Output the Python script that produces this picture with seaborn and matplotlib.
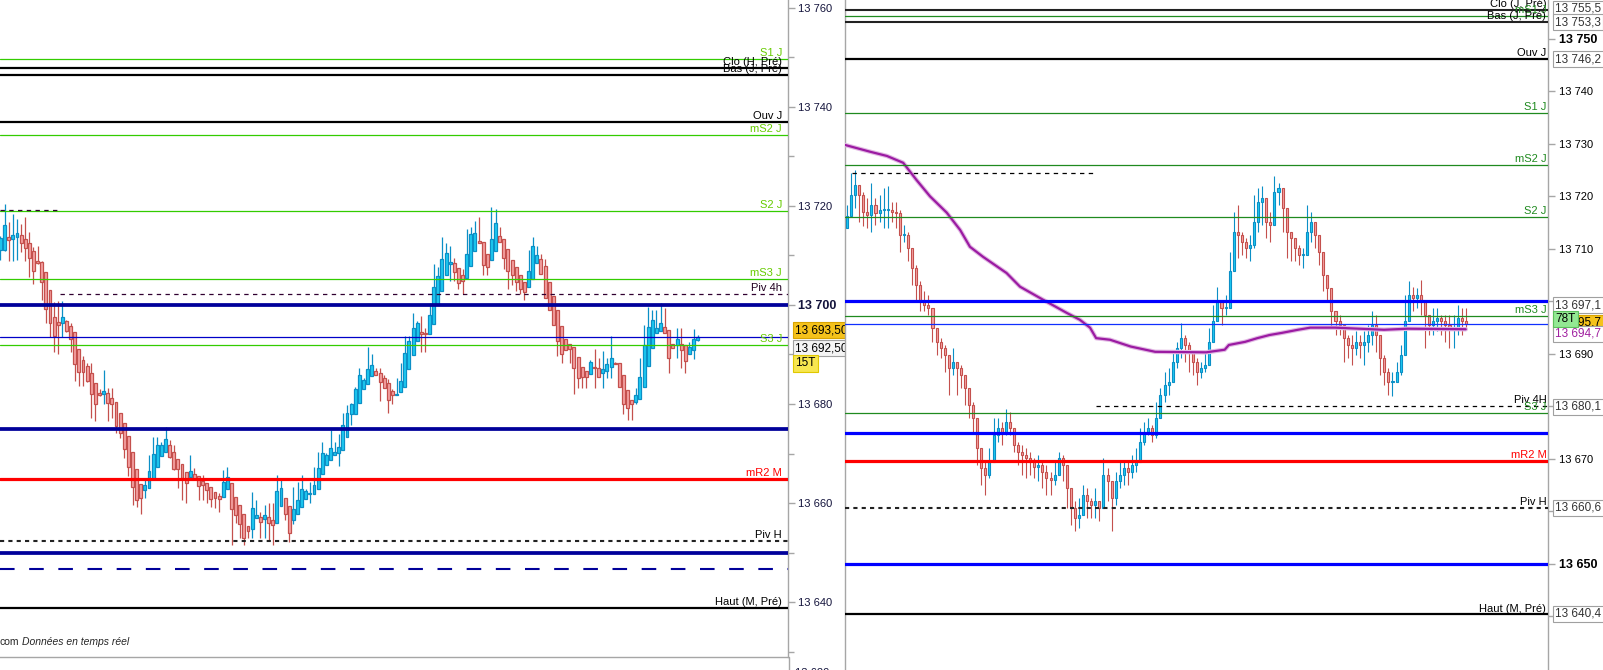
import matplotlib
matplotlib.use("Agg")
import matplotlib.pyplot as plt
import matplotlib.transforms as mtransforms
from matplotlib.lines import Line2D
import numpy as np
import pandas as pd
import seaborn as sns

# ------------------------------------------------------------------ DATA
# Left panel : 15-minute candles
left_open = [
13711.1, 13711.2, 13713.7, 13713.3, 13713.7, 13714.1, 13713.3, 13712.5, 13711.0, 13708.9,
13708.7, 13706.6, 13703.0, 13697.6, 13696.5, 13696.3, 13696.8, 13695.7, 13694.5, 13691.2,
13688.8, 13687.6, 13686.2, 13684.2, 13682.2, 13682.0, 13682.2, 13681.3, 13680.5, 13678.1,
13676.1, 13673.5, 13670.4, 13666.8, 13663.8, 13662.6, 13663.0, 13664.9, 13667.3, 13669.5,
13670.4, 13671.7, 13670.4, 13668.8, 13667.8, 13666.2, 13665.3, 13665.8, 13665.4, 13664.4,
13664.0, 13663.2, 13662.2, 13661.5, 13661.3, 13662.8, 13664.0, 13661.3, 13659.5, 13657.7,
13655.3, 13654.7, 13656.9, 13657.1, 13656.7, 13657.1, 13656.5, 13655.9, 13659.3, 13661.0,
13659.3, 13656.5, 13657.7, 13659.1, 13660.9, 13661.8, 13661.8, 13662.8, 13665.8, 13667.6,
13668.6, 13669.8, 13670.2, 13670.8, 13673.3, 13677.9, 13677.9, 13680.3, 13683.0, 13684.0,
13685.7, 13686.6, 13686.2, 13685.2, 13684.2, 13682.6, 13681.8, 13682.4, 13683.4, 13687.0,
13689.8, 13692.7, 13694.5, 13694.3, 13694.1, 13696.1, 13700.1, 13702.8, 13706.0, 13708.2,
13708.4, 13707.4, 13706.0, 13705.4, 13707.8, 13711.0, 13712.9, 13712.7, 13710.2, 13709.0,
13711.0, 13713.9, 13713.3, 13711.4, 13709.0, 13707.6, 13706.0, 13704.6, 13703.6, 13705.3,
13708.4, 13709.2, 13707.8, 13704.6, 13701.8, 13698.9, 13695.7, 13693.1, 13692.1, 13691.6,
13689.4, 13687.4, 13686.6, 13686.0, 13687.4, 13687.2, 13686.2, 13686.6, 13687.4, 13688.2,
13688.2, 13685.8, 13682.8, 13680.9, 13680.5, 13681.1, 13683.4, 13687.6, 13691.4, 13694.3,
13694.7, 13695.5, 13694.9, 13692.1, 13691.9, 13692.1, 13691.9, 13690.1, 13690.9, 13693.0]
left_close = [
13713.5, 13716.2, 13713.1, 13714.1, 13714.5, 13712.5, 13711.6, 13709.4, 13706.8, 13708.4,
13704.6, 13699.1, 13696.3, 13693.7, 13695.9, 13697.5, 13694.7, 13693.1, 13688.0, 13686.4,
13686.5, 13684.7, 13682.0, 13680.1, 13681.8, 13682.6, 13680.3, 13679.9, 13675.5, 13674.1,
13671.0, 13667.2, 13663.3, 13660.7, 13661.1, 13663.6, 13666.4, 13670.0, 13671.7, 13671.7,
13672.9, 13669.2, 13666.9, 13666.8, 13665.0, 13664.0, 13666.4, 13664.8, 13663.4, 13663.6,
13662.6, 13660.9, 13661.1, 13660.9, 13664.2, 13665.2, 13658.7, 13657.5, 13655.8, 13652.9,
13654.3, 13658.9, 13657.5, 13656.1, 13657.5, 13655.9, 13655.5, 13662.4, 13663.0, 13657.7,
13654.0, 13658.7, 13660.7, 13662.8, 13662.4, 13662.0, 13663.6, 13667.0, 13670.2, 13669.6,
13671.2, 13670.4, 13671.4, 13675.7, 13678.1, 13679.9, 13683.0, 13685.8, 13684.8, 13687.0,
13687.8, 13685.8, 13684.4, 13683.2, 13680.9, 13681.8, 13682.0, 13684.6, 13690.4, 13692.7,
13695.3, 13696.3, 13694.1, 13694.1, 13697.9, 13703.6, 13705.8, 13709.2, 13710.6, 13708.6,
13706.6, 13704.4, 13704.8, 13710.2, 13714.3, 13714.5, 13712.5, 13708.0, 13707.6, 13713.3,
13716.5, 13712.7, 13709.4, 13706.8, 13706.0, 13704.6, 13703.2, 13702.6, 13706.8, 13711.9,
13710.0, 13706.2, 13701.5, 13698.9, 13695.9, 13692.7, 13690.2, 13691.0, 13691.2, 13687.2,
13685.2, 13685.4, 13685.4, 13688.4, 13687.2, 13685.4, 13687.0, 13688.0, 13689.2, 13688.0,
13683.4, 13679.9, 13679.1, 13680.1, 13681.8, 13685.4, 13691.9, 13695.5, 13696.9, 13695.3,
13696.3, 13694.3, 13689.2, 13691.4, 13693.1, 13690.9, 13688.7, 13691.5, 13693.1, 13693.5]
left_high = [
13714.0, 13720.4, 13716.8, 13718.4, 13717.4, 13716.4, 13717.7, 13714.8, 13711.8, 13711.9,
13708.9, 13706.6, 13703.0, 13700.7, 13700.8, 13700.8, 13697.0, 13696.4, 13694.5, 13691.2,
13689.7, 13688.2, 13688.2, 13684.2, 13683.0, 13686.9, 13683.2, 13683.2, 13680.5, 13678.1,
13676.1, 13673.5, 13670.4, 13666.8, 13663.8, 13665.1, 13669.7, 13673.3, 13673.3, 13672.4,
13675.3, 13672.7, 13671.7, 13668.8, 13667.8, 13666.2, 13669.7, 13667.0, 13665.4, 13665.7,
13664.0, 13663.2, 13662.2, 13662.0, 13666.7, 13667.2, 13664.0, 13661.3, 13659.5, 13657.7,
13655.3, 13662.2, 13660.7, 13658.2, 13659.7, 13660.1, 13660.1, 13665.6, 13664.6, 13661.0,
13659.3, 13663.2, 13664.2, 13665.6, 13662.9, 13664.2, 13667.2, 13670.3, 13672.3, 13670.2,
13674.7, 13672.3, 13673.9, 13678.1, 13679.8, 13680.3, 13683.5, 13687.2, 13685.2, 13691.6,
13690.2, 13687.2, 13687.2, 13685.8, 13685.0, 13683.0, 13685.2, 13688.2, 13693.7, 13693.7,
13698.4, 13696.8, 13697.8, 13695.3, 13700.3, 13708.3, 13707.6, 13713.7, 13712.5, 13711.9,
13709.4, 13707.4, 13707.3, 13715.4, 13715.8, 13717.0, 13717.8, 13712.7, 13710.2, 13719.8,
13719.4, 13715.8, 13713.3, 13711.4, 13709.0, 13707.6, 13706.0, 13704.6, 13711.2, 13713.7,
13711.9, 13710.2, 13709.2, 13704.6, 13701.8, 13698.9, 13695.7, 13693.1, 13692.1, 13691.6,
13689.4, 13687.4, 13686.6, 13688.8, 13691.2, 13689.2, 13690.8, 13689.2, 13693.7, 13688.4,
13688.2, 13685.8, 13682.8, 13680.9, 13683.2, 13689.2, 13695.9, 13699.5, 13698.9, 13698.9,
13700.3, 13699.3, 13694.9, 13692.1, 13695.3, 13695.3, 13691.9, 13692.5, 13695.2, 13694.0]
left_low = [
13709.1, 13711.0, 13708.8, 13708.8, 13709.1, 13710.8, 13708.8, 13705.7, 13704.2, 13708.2,
13701.0, 13696.3, 13693.6, 13690.6, 13690.2, 13693.6, 13694.5, 13690.6, 13684.7, 13683.7,
13683.7, 13684.5, 13677.1, 13676.6, 13681.6, 13680.1, 13676.6, 13677.1, 13674.1, 13673.1,
13669.0, 13665.5, 13659.7, 13659.1, 13657.7, 13661.1, 13663.0, 13664.9, 13667.3, 13669.5,
13670.4, 13669.0, 13666.7, 13663.1, 13660.7, 13660.1, 13665.3, 13664.6, 13660.7, 13660.7,
13660.1, 13659.1, 13658.9, 13658.1, 13661.3, 13662.8, 13651.6, 13655.9, 13652.9, 13651.6,
13652.9, 13652.9, 13657.0, 13652.9, 13652.9, 13652.4, 13651.6, 13655.9, 13659.3, 13656.5,
13652.2, 13655.7, 13657.7, 13659.1, 13660.9, 13660.1, 13661.8, 13662.8, 13665.8, 13667.6,
13668.6, 13669.8, 13667.5, 13670.8, 13673.3, 13675.8, 13677.9, 13680.3, 13683.0, 13684.0,
13685.7, 13685.8, 13680.7, 13683.2, 13678.1, 13680.1, 13681.8, 13682.4, 13683.4, 13687.0,
13689.8, 13692.7, 13690.6, 13690.6, 13694.1, 13696.1, 13700.1, 13702.8, 13706.0, 13704.8,
13704.8, 13703.2, 13702.2, 13705.4, 13707.8, 13711.0, 13712.5, 13706.0, 13706.0, 13709.0,
13711.0, 13712.7, 13707.2, 13703.2, 13704.0, 13702.8, 13702.2, 13701.1, 13703.6, 13705.3,
13708.4, 13706.2, 13701.5, 13698.9, 13695.9, 13689.6, 13688.2, 13691.0, 13688.2, 13682.1,
13683.2, 13683.2, 13683.2, 13686.0, 13683.2, 13685.4, 13683.2, 13685.2, 13685.2, 13688.0,
13683.4, 13677.9, 13676.7, 13676.7, 13680.1, 13681.1, 13683.4, 13687.6, 13691.4, 13694.3,
13694.7, 13694.3, 13686.2, 13691.4, 13689.2, 13687.2, 13686.2, 13690.1, 13689.0, 13692.8]

# Right panel : 78-tick candles (open of each bar = previous close)
right_first_open = 13713.9
right_close = [
13716.2, 13720.3, 13722.2, 13720.3, 13717.1, 13716.5, 13718.4, 13716.8, 13717.4, 13717.4,
13717.4, 13717.1, 13716.8, 13712.7, 13712.7, 13710.1, 13706.3, 13703.1, 13700.0, 13699.3,
13698.7, 13694.9, 13692.3, 13691.1, 13689.8, 13687.3, 13688.5, 13687.3, 13686.0, 13683.5,
13680.3, 13677.7, 13672.0, 13668.2, 13666.9, 13669.5, 13674.6, 13675.8, 13675.2, 13677.1,
13675.8, 13672.7, 13671.4, 13670.8, 13670.1, 13669.5, 13668.5, 13668.9, 13667.6, 13666.3,
13666.0, 13666.9, 13670.1, 13668.9, 13664.4, 13660.6, 13658.7, 13659.3, 13663.1, 13661.9,
13661.2, 13661.9, 13660.6, 13666.9, 13665.7, 13662.5, 13665.7, 13666.9, 13668.2, 13667.6,
13668.9, 13669.5, 13673.3, 13675.2, 13675.8, 13674.6, 13677.7, 13682.2, 13684.1, 13684.7,
13688.5, 13691.1, 13693.0, 13691.7, 13690.4, 13688.5, 13686.6, 13687.3, 13687.9, 13692.3,
13696.2, 13700.0, 13698.7, 13698.7, 13705.7, 13713.3, 13712.7, 13711.4, 13710.1, 13710.8,
13715.2, 13719.0, 13719.6, 13715.2, 13714.6, 13720.9, 13721.6, 13717.7, 13713.3, 13712.0,
13710.1, 13708.9, 13708.9, 13713.3, 13715.2, 13712.7, 13709.5, 13705.0, 13702.5, 13698.1,
13696.2, 13695.5, 13693.0, 13691.7, 13691.1, 13692.3, 13691.7, 13692.3, 13693.6, 13695.5,
13693.6, 13689.2, 13686.6, 13684.7, 13684.7, 13686.6, 13689.8, 13696.2, 13701.2, 13700.6,
13701.2, 13700.0, 13697.4, 13695.5, 13696.2, 13696.8, 13696.2, 13695.5, 13694.9, 13694.9,
13696.8, 13696.2, 13695.7]
right_high = [
13718.4, 13724.4, 13725.0, 13722.2, 13720.9, 13719.6, 13722.5, 13719.6, 13720.3, 13721.6,
13721.9, 13719.0, 13719.0, 13717.4, 13714.6, 13713.3, 13710.1, 13706.9, 13703.8, 13701.9,
13701.2, 13697.4, 13694.3, 13693.0, 13691.7, 13689.8, 13691.1, 13688.5, 13687.9, 13686.0,
13683.5, 13680.9, 13677.1, 13672.0, 13669.5, 13672.0, 13677.7, 13677.7, 13677.1, 13679.6,
13679.0, 13675.2, 13673.3, 13672.7, 13672.0, 13671.4, 13670.1, 13670.8, 13669.5, 13668.9,
13667.6, 13669.5, 13671.4, 13670.8, 13667.6, 13664.4, 13661.9, 13662.5, 13665.0, 13664.4,
13662.5, 13664.4, 13661.9, 13670.1, 13668.2, 13665.7, 13667.6, 13669.5, 13669.5, 13669.5,
13670.8, 13672.0, 13675.8, 13677.1, 13677.7, 13676.5, 13680.9, 13683.5, 13686.6, 13687.3,
13690.4, 13692.3, 13695.8, 13693.6, 13692.3, 13690.4, 13689.2, 13688.5, 13690.4, 13694.9,
13699.3, 13702.8, 13700.0, 13701.2, 13709.5, 13717.1, 13718.4, 13713.3, 13712.0, 13712.7,
13720.3, 13721.6, 13721.9, 13718.4, 13717.1, 13723.8, 13722.5, 13719.3, 13716.5, 13713.3,
13712.0, 13710.8, 13710.1, 13718.4, 13717.1, 13715.2, 13712.7, 13708.9, 13705.0, 13701.2,
13698.1, 13697.4, 13695.5, 13693.6, 13693.6, 13694.3, 13693.6, 13694.3, 13695.5, 13698.1,
13697.4, 13692.3, 13689.8, 13687.3, 13686.6, 13688.5, 13691.7, 13701.2, 13703.8, 13702.8,
13702.5, 13704.1, 13700.0, 13697.4, 13698.7, 13698.7, 13697.4, 13697.4, 13697.4, 13697.4,
13699.3, 13698.7, 13698.7]
right_low = [
13714.6, 13716.5, 13717.7, 13715.2, 13714.3, 13713.9, 13713.3, 13714.6, 13715.2, 13713.9,
13713.9, 13715.2, 13713.9, 13709.5, 13711.4, 13707.6, 13703.1, 13700.0, 13698.1, 13698.1,
13697.4, 13692.3, 13689.8, 13689.2, 13686.6, 13682.2, 13686.0, 13682.2, 13683.5, 13680.3,
13677.7, 13675.2, 13668.9, 13665.0, 13663.1, 13666.3, 13670.8, 13673.3, 13672.7, 13674.6,
13674.6, 13671.4, 13668.9, 13666.9, 13666.3, 13666.9, 13666.3, 13665.7, 13664.4, 13663.1,
13663.1, 13665.0, 13666.9, 13665.7, 13660.6, 13657.4, 13656.2, 13656.8, 13659.3, 13658.7,
13658.7, 13658.7, 13658.1, 13663.8, 13661.9, 13656.2, 13661.2, 13664.4, 13665.0, 13665.0,
13666.3, 13667.6, 13672.0, 13672.7, 13674.6, 13673.3, 13673.9, 13677.7, 13680.9, 13682.2,
13684.7, 13687.3, 13689.2, 13688.5, 13686.6, 13686.0, 13684.1, 13685.4, 13686.6, 13689.8,
13693.6, 13696.2, 13695.5, 13697.4, 13700.6, 13706.9, 13708.2, 13708.9, 13708.2, 13707.6,
13710.1, 13713.3, 13714.6, 13712.0, 13711.4, 13715.2, 13718.4, 13713.3, 13708.2, 13707.6,
13707.6, 13706.9, 13706.3, 13708.9, 13711.4, 13710.1, 13706.9, 13701.9, 13700.0, 13694.9,
13693.6, 13693.6, 13688.5, 13689.2, 13687.9, 13689.8, 13689.2, 13687.9, 13690.4, 13691.7,
13690.4, 13686.0, 13684.1, 13682.2, 13681.9, 13684.7, 13686.0, 13692.3, 13698.1, 13698.1,
13698.7, 13697.4, 13691.1, 13693.6, 13693.6, 13694.3, 13693.6, 13692.3, 13691.1, 13691.1,
13693.6, 13693.6, 13694.9]

# Right panel moving average (bar index, value)
ma_bar = [-0.5, 5.7, 9.8, 13.8, 17.1, 20.4, 24.5, 27.8, 30.2, 33.4, 39.2, 42.5, 48.2,
          54.0, 57.2, 59.7, 61.2, 64.6, 69.7, 75.7, 88.2, 92.8, 93.8, 97.8, 100.8,
          103.8, 106.8, 110.8, 113.8, 119.9, 125.8, 131.9, 137.8, 152.0]
ma_value = [13729.8, 13728.5, 13727.7, 13726.4, 13723.1, 13720.0, 13716.9, 13713.6,
            13710.4, 13708.5, 13705.4, 13702.8, 13700.3, 13697.8, 13696.5, 13695.0,
            13693.0, 13692.7, 13691.4, 13690.4, 13690.3, 13690.8, 13691.7, 13692.3,
            13693.0, 13693.6, 13694.0, 13694.6, 13695.0, 13695.0, 13694.8, 13694.6,
            13694.8, 13694.7]

# Horizontal levels
left_level_values = [13749.7, 13747.9, 13746.5, 13737.0, 13734.3, 13719.0, 13719.2,
                     13705.3, 13702.2, 13700.0, 13693.5, 13692.0, 13675.0, 13664.8,
                     13652.3, 13650.0, 13646.7, 13638.8]
left_level_labels = ["S1 J", "Clo (H, Pré)", "Bas (J, Pré)", "Ouv J", "mS2 J", "S2 J", "",
                     "mS3 J", "Piv 4h", "", "", "S3 J", "", "mR2 M",
                     "Piv H", "", "", "Haut (M, Pré)"]
right_level_values = [13755.5, 13754.4, 13753.3, 13746.2, 13735.9, 13726.0, 13724.5,
                      13716.1, 13700.0, 13697.3, 13695.7, 13680.1, 13678.8, 13675.0,
                      13669.6, 13660.6, 13650.0, 13640.4]
right_level_labels = ["Clo (J, Pré)", "mS1 J", "Bas (J, Pré)", "Ouv J", "S1 J", "mS2 J", "",
                      "S2 J", "", "mS3 J", "", "Piv 4H", "S3 J", "",
                      "mR2 M", "Piv H", "", "Haut (M, Pré)"]

left_tick_values = [13640, 13660, 13680, 13700, 13720, 13740, 13760]
left_tick_labels = ["13 640", "13 660", "13 680", "13 700", "13 720", "13 740", "13 760"]
right_tick_values = [13640, 13650, 13660, 13670, 13680, 13690, 13700, 13710, 13720, 13730, 13740, 13750]
right_tick_labels = ["", "13 650", "", "13 670", "", "13 690", "", "13 710", "13 720", "13 730", "13 740", "13 750"]

left_box_texts = ["13 693,50", "13 692,50", "15T"]
right_box_texts = ["13 755,5", "13 753,3", "13 746,2", "13 697,1", "13 695,7", "78T",
                   "13 694,7", "13 680,1", "13 660,6", "13 640,4"]
footnote_plain = "com"
footnote_italic = "Données en temps réel"

# ------------------------------------------------------------------ STYLE
sns.set_theme(style="white")
plt.rcParams['font.family'] = ['Liberation Sans', 'DejaVu Sans']

W, H = 1603, 670
fig = plt.figure(figsize=(W / 100, H / 100), dpi=100, facecolor="white")
axL = fig.add_axes([0, 13 / H, 788 / W, 657 / H])
axR = fig.add_axes([845 / W, 0, 703 / W, 1])

UP_FILL, UP_EDGE = "#1ecbf2", "#0b8fc6"
DN_FILL, DN_EDGE = "#f6a3a3", "#c4504d"


def draw_candles(ax, o, c, h, l, width, lw):
    o, c, h, l = map(np.asarray, (o, c, h, l))
    x = np.arange(len(c))
    top = np.maximum(o, c)
    bot = np.minimum(o, c)
    hi = np.maximum(h, top)
    lo = np.minimum(l, bot)
    up = c >= o
    height = np.maximum(top - bot, 0.15)
    for mask, fc, ec in ((up, UP_FILL, UP_EDGE), (~up, DN_FILL, DN_EDGE)):
        ax.vlines(x[mask], lo[mask], hi[mask], color=ec, lw=lw, zorder=2)
        ax.bar(x[mask], height[mask], bottom=bot[mask], width=width, color=fc,
               edgecolor=ec, linewidth=lw, zorder=3)


draw_candles(axL, left_open, left_close, left_high, left_low, 0.72, 0.9)
r_open = [right_first_open] + right_close[:-1]
draw_candles(axR, r_open, right_close, right_high, right_low, 0.5, 0.8)

# moving average (seaborn)
ma_df = pd.DataFrame({"bar": ma_bar, "value": ma_value})
sns.lineplot(data=ma_df, x="bar", y="value", ax=axR, color="#e2b9e4", lw=3.2,
             sort=False, legend=False, zorder=5)
sns.lineplot(data=ma_df, x="bar", y="value", ax=axR, color="#9b1ba2", lw=1.6,
             sort=False, legend=False, zorder=6)

GREEN_L, GREEN_TXT_L = "#33cc00", "#66cc00"
GREEN_R = "#1f8a1f"
STY = {
    "gL": dict(color=GREEN_L, lw=0.9, ls="-"),
    "gR": dict(color=GREEN_R, lw=0.9, ls="-"),
    "k": dict(color="#000000", lw=1.6, ls="-"),
    "k2": dict(color="#222222", lw=1.5, ls="-"),
    "navy": dict(color="#00009a", lw=2.7, ls="-"),
    "navy1": dict(color="#0000c8", lw=0.9, ls="-"),
    "navyd": dict(color="#00009a", lw=1.5, ls=(0, (7, 7))),
    "blue": dict(color="#0000ff", lw=2.3, ls="-"),
    "blue1": dict(color="#1030ff", lw=0.9, ls="-"),
    "red": dict(color="#ff0000", lw=2.3, ls="-"),
    "pivH": dict(color="#222222", lw=1.5, ls=(0, (2, 2))),
    "piv4": dict(color="#300030", lw=0.9, ls=(0, (3.5, 3.5))),
    "piv4R": dict(color="#000000", lw=0.9, ls=(0, (3.5, 3.5))),
}
left_styles = ["gL", "k", "k", "k", "gL", "gL", "piv4", "gL", "piv4", "navy", "navy1",
               "gL", "navy", "red", "pivH", "navy", "navyd", "k"]
left_span = {6: (0, 58 / 788), 8: (60 / 788, 1)}
right_styles = ["k2", "gR", "k2", "k", "gR", "gR", "piv4R", "gR", "blue", "gR", "blue1",
                "piv4R", "gR", "blue", "red", "pivH", "blue", "k"]
right_span = {6: (7 / 703, 249 / 703), 11: (251 / 703, 1)}


def text_color(style_key):
    return {"gL": GREEN_TXT_L, "gR": GREEN_R, "red": "#ff0000", "piv4": "#200020"}.get(style_key, "#000000")


def draw_levels(ax, values, labels, styles, spans, dx):
    trans = mtransforms.blended_transform_factory(ax.transAxes, ax.transData)
    for i, (v, lab, sk) in enumerate(zip(values, labels, styles)):
        s = STY[sk]
        x0, x1 = spans.get(i, (0, 1))
        ax.axhline(v, x0, x1, color=s["color"], lw=s["lw"], ls=s["ls"], zorder=7)
        if lab:
            ax.annotate(lab, xy=(1, v), xycoords=trans, xytext=(dx, 0.6),
                        textcoords="offset points", ha="right", va="bottom",
                        fontsize=8, color=text_color(sk), zorder=8,
                        annotation_clip=False)


draw_levels(axL, left_level_values, left_level_labels, left_styles, left_span, -4.3)
draw_levels(axR, right_level_values, right_level_labels, right_styles, right_span, -1.2)

# axes limits
axL.set_xlim(-0.12, 190.9)
axL.set_ylim(13628.9, 13761.6)
axR.set_xlim(-0.49, 172.2)
axR.set_ylim(13629.8, 13757.4)

for ax in (axL, axR):
    ax.set_xlabel("")
    ax.set_ylabel("")
    ax.set_xticks([])
    ax.set_facecolor("white")
    ax.grid(False)
    ax.yaxis.tick_right()
    for sp in ax.spines.values():
        sp.set_color("#a6a6a6")
        sp.set_linewidth(1.0)

axL.spines["top"].set_visible(False)
axL.spines["left"].set_visible(False)
axR.spines["top"].set_visible(False)
axR.spines["bottom"].set_visible(False)

axL.set_yticks(left_tick_values)
axL.set_yticklabels(left_tick_labels)
axL.set_yticks([v + 10 for v in left_tick_values[:-1]] + [13630], minor=True)
axL.tick_params(axis="y", which="major", right=True, length=5, width=1, color="#a6a6a6",
                pad=2, labelsize=8, labelcolor="#14143c")
axL.tick_params(axis="y", which="minor", right=True, length=4, width=1, color="#a6a6a6")
for lab in axL.get_yticklabels():
    if lab.get_text() == "13 700":
        lab.set_fontweight("bold")
        lab.set_fontsize(9)

axR.set_yticks(right_tick_values)
axR.set_yticklabels(right_tick_labels)
axR.tick_params(axis="y", which="major", right=True, length=5, width=1, color="#a6a6a6",
                pad=3, labelsize=8, labelcolor="#000000")
for lab in axR.get_yticklabels():
    if lab.get_text() in ("13 750", "13 650"):
        lab.set_fontweight("bold")
        lab.set_fontsize(9)

# price boxes
tL = mtransforms.blended_transform_factory(axL.transAxes, axL.transData)
tR = mtransforms.blended_transform_factory(axR.transAxes, axR.transData)
left_box_pos = [13694.9, 13691.3, 13688.2]
left_box_style = [("#f5c21b", "#d9a400", "#000000"), ("#f4f4f4", "#a0a0a0", "#000000"),
                  ("#f7e650", "#e0c800", "#000000")]
for txt, pos, (fc, ec, tc) in zip(left_box_texts, left_box_pos, left_box_style):
    axL.text(1.0095, pos, txt, transform=tL, ha="left", va="center", fontsize=8.5, color=tc,
             bbox=dict(boxstyle="square,pad=0.18", fc=fc, ec=ec, lw=0.8), clip_on=False, zorder=10)

right_box_pos = [13755.7, 13753.2, 13746.1, 13699.3, 13695.9, 13696.6, 13693.8, 13679.9, 13660.7, 13640.5]
right_box_style = [("white", "#a0a0a0", "#333333")] * 4 + [("#f5c21b", "#d9a400", "#000000"),
                   ("#93e893", "#5cc05c", "#000000"), ("white", "#a0a0a0", "#a020a0")] + \
                  [("white", "#a0a0a0", "#333333")] * 3
for k, (txt, pos, (fc, ec, tc)) in enumerate(zip(right_box_texts, right_box_pos, right_box_style)):
    axR.text(1.0105, pos, txt, transform=tR, ha="left", va="center", fontsize=8.5, color=tc,
             bbox=dict(boxstyle="square,pad=0.18", fc=fc, ec=ec, lw=0.8), clip_on=False,
             zorder=12 if txt == "78T" else 10)

# separators / footnote
fig.add_artist(Line2D([788.5 / W, 788.5 / W], [0, 13 / H], transform=fig.transFigure,
                      color="#a6a6a6", lw=1.0))
fig.text(795 / W, -3 / H, "13 620", fontsize=8, va="center", ha="left", color="#14143c")
fig.text(0.0, (H - 642) / H, footnote_plain, fontsize=7.5, va="center", ha="left")
fig.text(22 / W, (H - 642) / H, footnote_italic, fontsize=7.5, va="center", ha="left", style="italic")

fig.savefig("out.png", dpi=100, facecolor="white")
